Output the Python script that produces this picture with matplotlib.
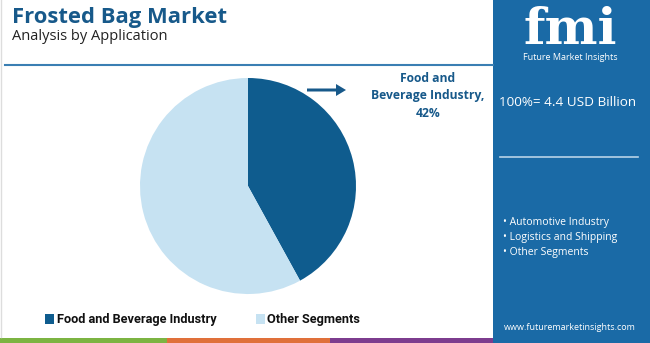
import matplotlib.pyplot as plt
from matplotlib.patches import Rectangle, FancyArrow

# data
segments = ['Food and Beverage Industry', 'Other Segments']
shares = [42, 58]
seg_colors = ['#0f5c8e', '#c6e2f2']
total_label = '100%= 4.4 USD Billion'
other_apps = ['Automotive Industry', 'Logistics and Shipping', 'Other Segments']

W, H = 650, 343
fig = plt.figure(figsize=(W / 100, H / 100), dpi=100)
fig.patch.set_facecolor('white')

# pixel-space overlay axis for decoration
bg = fig.add_axes([0, 0, 1, 1])
bg.set_xlim(0, W)
bg.set_ylim(H, 0)
bg.axis('off')

font = 'Open Sans'
navy = '#17598a'

# title block
bg.text(12, 17, 'Frosted Bag Market', fontsize=15.8, fontweight='bold',
        color=navy, family=font, va='center')
bg.text(12, 37, 'Analysis by Application', fontsize=10.5, color='#222222',
        family=font, va='center')
bg.plot([5, 493], [65, 65], color='#3a7fb3', lw=1.5)
bg.plot([1, 1], [0, 337], color='#dddddd', lw=1)

# bottom colour strip
for x0, x1, c in [(0, 167, '#7cb442'), (167, 330, '#e0703a'), (330, 493, '#7d3c8e')]:
    bg.add_patch(Rectangle((x0, 338), x1 - x0, 5, color=c, lw=0))

# right panel
bg.add_patch(Rectangle((493, 0), W - 493, 343, color='#1a6aa6', lw=0))
bg.text(570, 30, 'fmi', fontsize=36, fontweight='bold', color='white',
        family='DejaVu Serif', ha='center', va='center')
bg.text(570, 58, 'Future Market Insights', fontsize=6.5, color='white',
        family=font, ha='center', va='center')
bg.text(568, 102, total_label, fontsize=9.7, color='white', family=font,
        ha='center', va='center')
bg.plot([500, 638], [157, 157], color='#b8d3e8', lw=1.2)
for i, name in enumerate(other_apps):
    bg.text(503, 222 + i * 15.5, '\u2022 ' + name, fontsize=7.5, color='white',
            family=font, va='center')
bg.text(570, 328, 'www.futuremarketinsights.com', fontsize=6.5, color='white',
        family=font, ha='center', va='center')

# pie
cx, cy, r = 248, 186, 108
pax = fig.add_axes([(cx - r) / W, 1 - (cy + r) / H, 2 * r / W, 2 * r / H])
pax.pie(shares, colors=seg_colors, startangle=90, counterclock=False,
        wedgeprops=dict(linewidth=0))
pax.set_xlim(-1, 1)
pax.set_ylim(-1, 1)
pax.set_aspect('auto')

# callout
bg.add_patch(FancyArrow(307, 90, 29, 0, width=3, head_width=12, head_length=10,
                        color=navy, lw=0))
bg.text(428, 96, f'Food and\nBeverage Industry,\n{shares[0]}%', fontsize=8.7,
        fontweight='bold', color=navy, family=font, ha='center', va='center',
        linespacing=1.45)

# legend
lx = [45, 256]
tx = [57, 267]
for i, name in enumerate(segments):
    bg.add_patch(Rectangle((lx[i], 314), 8.5, 10, color=seg_colors[i], lw=0))
    bg.text(tx[i], 319, name, fontsize=9.15, fontweight='bold', color='#111111',
            family='Roboto', va='center')

fig.savefig('out.png', dpi=100, facecolor='white')
